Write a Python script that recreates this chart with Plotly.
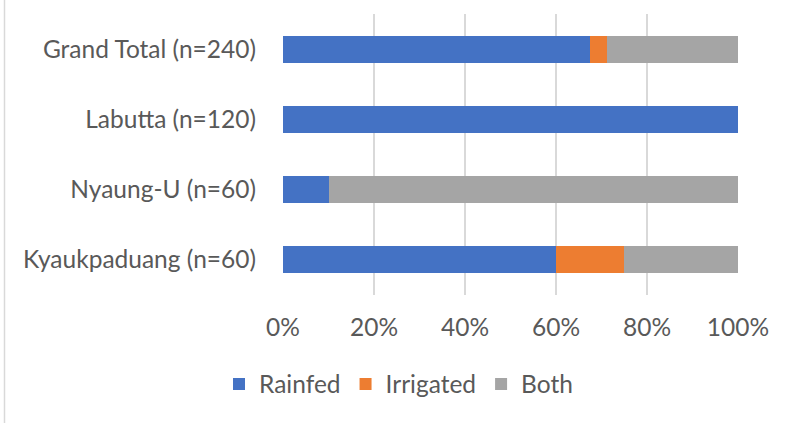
import plotly.graph_objects as go

categories = ["Kyaukpaduang (n=60)", "Nyaung-U (n=60)", "Labutta (n=120)", "Grand Total (n=240)"]
rainfed = [0.60, 0.10, 1.00, 0.675]
irrigated = [0.15, 0.00, 0.00, 0.0375]
both = [0.25, 0.90, 0.00, 0.2875]

series = [("Rainfed", rainfed, "#4472C4"), ("Irrigated", irrigated, "#ED7D31"), ("Both", both, "#A5A5A5")]

fig = go.Figure()
for name, vals, col in series:
    fig.add_trace(go.Bar(y=categories, x=vals, name=name, orientation="h",
                         marker=dict(color=col, line=dict(width=0))))

W, H = 787, 423
L, R, T, B = 283, 49, 14, 128
fig.update_layout(
    width=W, height=H, barmode="stack", bargap=0.615,
    margin=dict(l=L, r=R, t=T, b=B),
    paper_bgcolor="white", plot_bgcolor="white",
    font=dict(family="Lato", size=24.5, color="#595959"),
    xaxis=dict(range=[0, 1], tickformat=".0%", dtick=0.2, showgrid=True, gridcolor="#D9D9D9",
               gridwidth=1.5, zeroline=False, showline=False, ticks="", ticklabelstandoff=15,
               fixedrange=True),
    yaxis=dict(showgrid=False, zeroline=False, showline=False, ticks="", ticklabelstandoff=26,
               fixedrange=True),
    legend=dict(orientation="h", xref="container", yref="container", x=219 / W, xanchor="left",
                y=1 - 384 / H, yanchor="middle", font=dict(size=24.5), itemwidth=30,
                traceorder="normal"),
    showlegend=True,
)
fig.add_shape(type="line", xref="paper", yref="paper", x0=(4.5 - L) / (W - L - R), x1=(4.5 - L) / (W - L - R),
              y0=-B / (H - T - B), y1=1 + T / (H - T - B), line=dict(color="#D9D9D9", width=1.5))
fig.write_html("out.html")
